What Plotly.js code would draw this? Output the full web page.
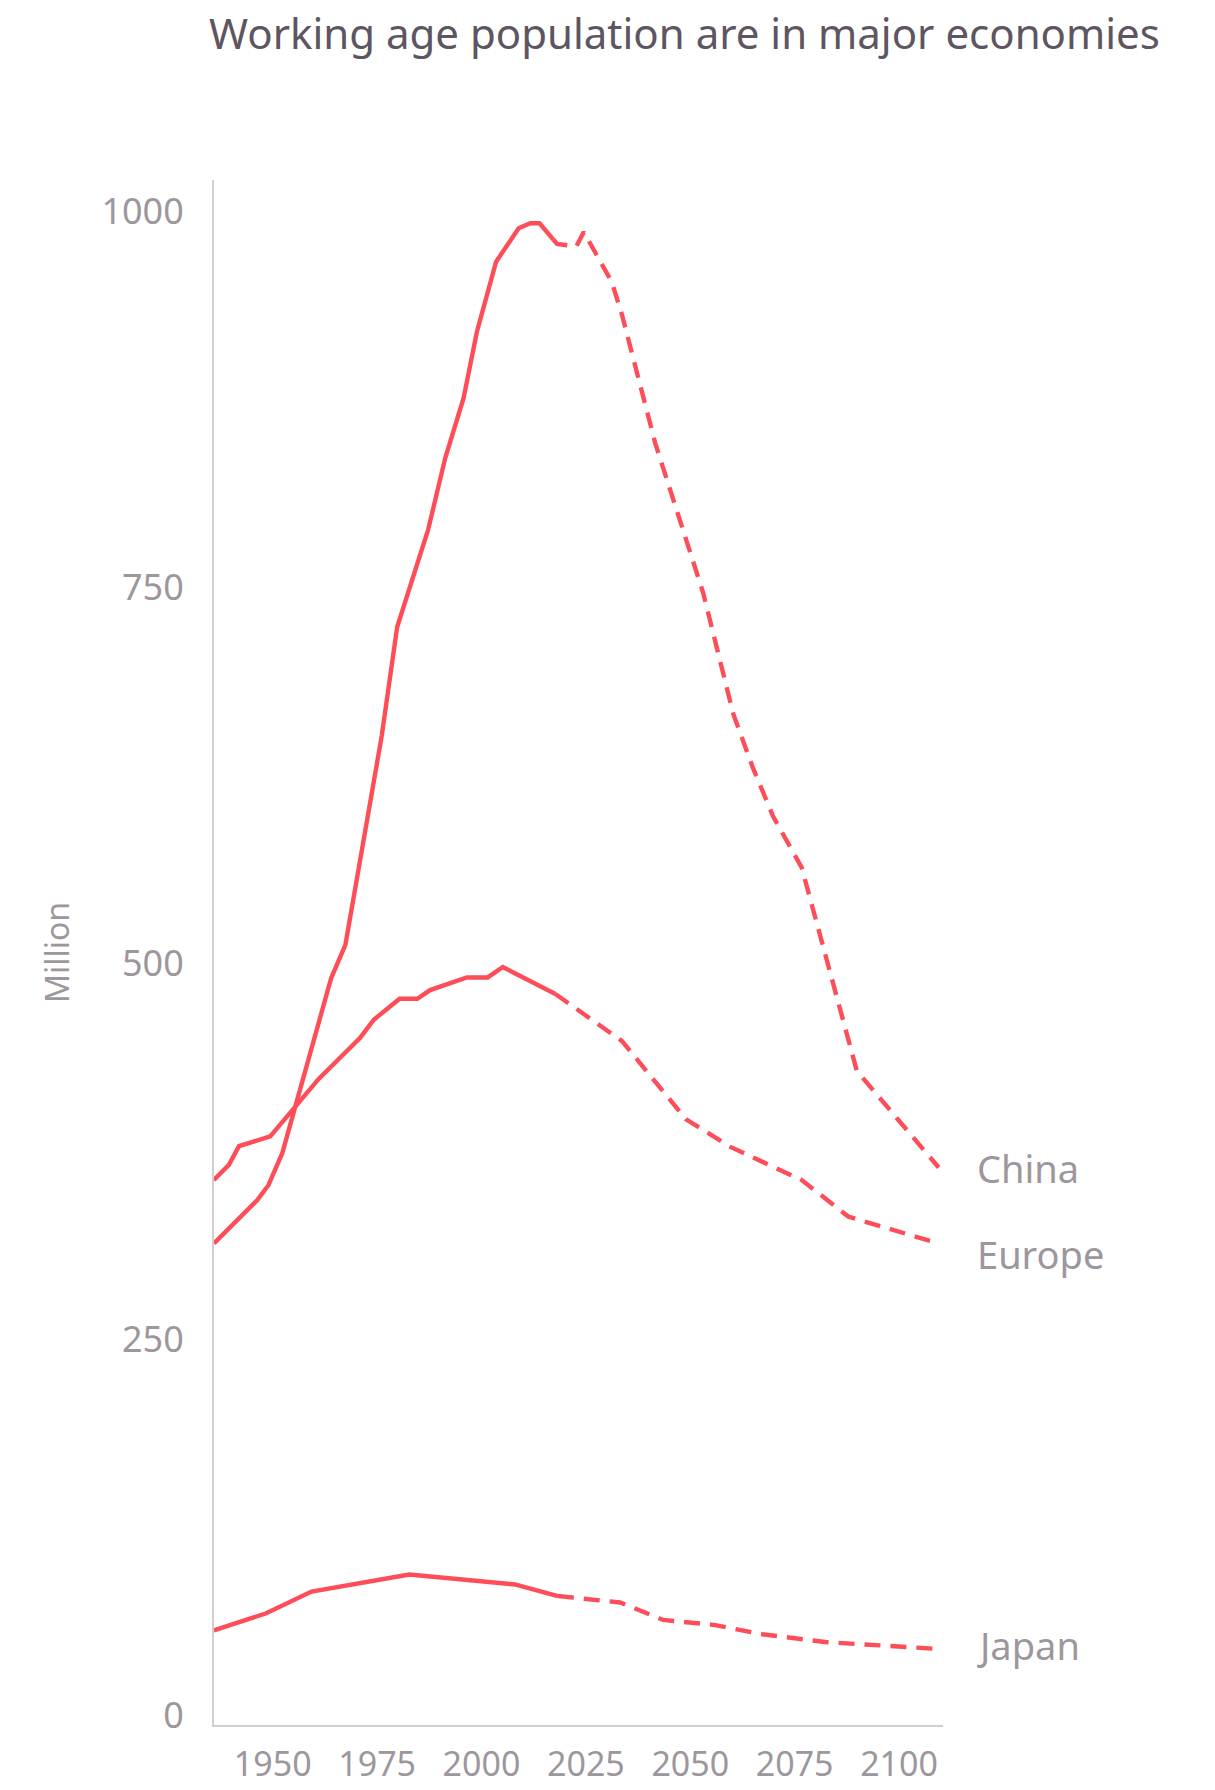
<!DOCTYPE html>
<html>
<head>
<meta charset="utf-8">
<script src="https://cdn.plot.ly/plotly-3.0.1.min.js"></script>
<style>
  html, body { margin: 0; padding: 0; background: #ffffff; }
  #chart { width: 1215px; height: 1790px; }
</style>
</head>
<body>
<div id="chart"></div>
<script>
// ---- Data ----
const seriesNames = ["China", "Europe", "Japan"];

const chinaHistYears  = [1935.9, 1941.9, 1946.3, 1949.0, 1952.3, 1964.0, 1967.4, 1976.1, 1979.8, 1987.2, 1991.3, 1995.7, 1998.9, 2003.5, 2008.9, 2011.7, 2013.9, 2017.2];
const chinaHistValues = [313.5, 330.3, 342.4, 352.4, 373.7, 490.0, 512.0, 650.9, 723.4, 787.9, 835.6, 875.5, 919.7, 966.3, 988.5, 991.8, 991.8, 981.0];
const chinaProjYears  = [2017.2, 2018.1, 2022.7, 2024.5, 2031.2, 2033.6, 2041.6, 2053.1, 2060.3, 2065.1, 2069.8, 2076.7, 2089.9, 2109.5];
const chinaProjValues = [981.0, 978.1, 976.4, 986.0, 952.8, 931.5, 845.7, 746.0, 665.6, 629.0, 597.7, 563.4, 428.2, 364.0];

const europeHistYears  = [1935.9, 1939.5, 1941.9, 1949.4, 1961.0, 1971.0, 1974.2, 1980.4, 1984.6, 1987.7, 1996.5, 2001.5, 2005.1, 2011.3, 2017.7];
const europeHistValues = [355.7, 365.8, 378.2, 384.7, 422.9, 450.5, 462.3, 476.2, 476.2, 482.0, 490.4, 490.4, 497.3, 488.6, 479.4];
const europeProjYears  = [2017.7, 2033.6, 2049.0, 2059.5, 2076.7, 2087.9, 2109.5];
const europeProjValues = [479.4, 448.2, 396.0, 377.9, 355.7, 331.3, 313.5];

const japanHistYears  = [1935.9, 1948.3, 1959.3, 1970.3, 1982.7, 2008.0, 2018.3];
const japanHistValues = [56.2, 67.5, 82.1, 87.1, 93.4, 86.8, 79.1];
const japanProjYears  = [2018.3, 2033.2, 2043.5, 2056.0, 2066.7, 2082.3, 2109.5];
const japanProjValues = [79.1, 74.8, 63.2, 59.8, 53.9, 48.5, 43.9];

const xTickValues = [1950, 1975, 2000, 2025, 2050, 2075, 2100];
const yTickValues = [0, 250, 500, 750, 1000];

const titleText = "Working age population are in major economies";
const yTitleText = "Million";

// ---- Styles ----
const lineColor = "#fd4d58";
const lineWidth = 4.4;
const dashStyle = "16px,10px";
const tickColor = "#9d979d";
const axisColor = "#d2ced2";
const fontFamily = "'Noto Sans', 'Open Sans', sans-serif";
const labelYShift = [0, -11, 4];

const groups = [
  [chinaHistYears, chinaHistValues, chinaProjYears, chinaProjValues],
  [europeHistYears, europeHistValues, europeProjYears, europeProjValues],
  [japanHistYears, japanHistValues, japanProjYears, japanProjValues]
];

const traces = [];
const annotations = [];
groups.forEach((g, i) => {
  traces.push({
    x: g[0], y: g[1], type: "scatter", mode: "lines", name: seriesNames[i],
    line: { color: lineColor, width: lineWidth, shape: "linear" },
    hoverinfo: "x+y", showlegend: false, cliponaxis: false
  });
  traces.push({
    x: g[2], y: g[3], type: "scatter", mode: "lines", name: seriesNames[i] + " (projection)",
    line: { color: lineColor, width: lineWidth, dash: dashStyle, shape: "linear" },
    hoverinfo: "x+y", showlegend: false, cliponaxis: false
  });
  annotations.push({
    x: g[2][g[2].length - 1], y: g[3][g[3].length - 1],
    xref: "x", yref: "y", text: seriesNames[i], showarrow: false,
    xanchor: "left", yanchor: "middle", xshift: 36, yshift: labelYShift[i],
    font: { family: fontFamily, size: 38, color: tickColor }
  });
});

const layout = {
  width: 1215, height: 1790,
  paper_bgcolor: "#ffffff", plot_bgcolor: "#ffffff",
  margin: { l: 213.5, r: 272, t: 180, b: 65, pad: 0, autoexpand: false },
  showlegend: false,
  font: { family: fontFamily, color: tickColor },
  title: {
    text: titleText,
    font: { family: fontFamily, size: 42, color: "#5d555f" },
    xref: "container", yref: "container",
    x: 209 / 1215, xanchor: "left",
    y: 1 - 34 / 1790, yanchor: "middle"
  },
  xaxis: {
    range: [1935.93, 2110.53],
    tickmode: "array", tickvals: xTickValues, ticktext: xTickValues.map(String),
    showline: true, linecolor: axisColor, linewidth: 2,
    showgrid: false, zeroline: false, ticks: "",
    ticklabelstandoff: 8,
    tickfont: { family: fontFamily, size: 34, color: tickColor },
    automargin: false
  },
  yaxis: {
    range: [-6.65, 1020.6],
    tickmode: "array", tickvals: yTickValues, ticktext: yTickValues.map(String),
    showline: true, linecolor: axisColor, linewidth: 2,
    showgrid: false, zeroline: false, ticks: "",
    ticklabelstandoff: 21,
    tickfont: { family: fontFamily, size: 36, color: tickColor },
    title: { text: yTitleText, standoff: 22, font: { family: fontFamily, size: 32, color: tickColor } },
    automargin: false
  },
  annotations: annotations
};

Plotly.newPlot("chart", traces, layout, { staticPlot: true, displayModeBar: false });
</script>
</body>
</html>
